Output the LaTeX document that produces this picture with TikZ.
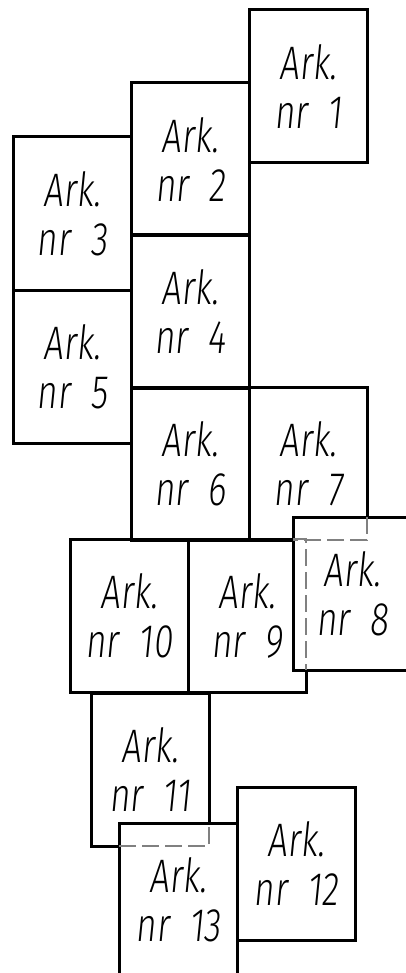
\documentclass[tikz,border=0pt]{standalone}
\usepackage{fontspec}
\setmainfont{Fira Sans Light}[FakeStretch=0.74, FakeSlant=0.1]
\tikzset{
  sheet/.style={minimum width=118pt, minimum height=153pt, inner sep=0pt, outer sep=0pt,
                align=center, font=\fontsize{47}{49}\selectfont},
  solidedge/.style={line width=3pt, line join=miter},
  hidden/.style={line width=1.1pt, gray, dash pattern=on 17pt off 6pt},
}
\newcommand{\sheetlabel}[1]{Ark.\\nr\hspace{20pt}#1}
\begin{document}
\begin{tikzpicture}[x=1pt,y=-1pt]
\useasboundingbox (0,0) rectangle (406,973);
\node[sheet] (n1)  at (308,86.5)  {\sheetlabel{1}};
\node[sheet] (n2)  at (190,159.5) {\sheetlabel{2}};
\node[sheet] (n3)  at (72,213.5)  {\sheetlabel{3}};
\node[sheet] (n4)  at (190,311.5) {\sheetlabel{4}};
\node[sheet] (n5)  at (72,366.5)  {\sheetlabel{5}};
\node[sheet] (n6)  at (190,463.5) {\sheetlabel{6}};
\node[sheet] (n7)  at (308,463.5) {\sheetlabel{7}};
\node[sheet] (n8)  at (352,593.5) {\sheetlabel{8}};
\node[sheet] (n9)  at (247,615.5) {\sheetlabel{9}};
\node[sheet] (n10) at (129,615.5) {\sheetlabel{10}};
\node[sheet] (n11) at (150,769.5) {\sheetlabel{11}};
\node[sheet] (n12) at (296,863.5) {\sheetlabel{12}};
\node[sheet] (n13) at (178,899.5) {\sheetlabel{13}};
\foreach \n in {1,2,3,4,5,6,10,12,8,13}
  \draw[solidedge] (n\n.north west) rectangle (n\n.south east);
% sheet 7, partly under sheet 8
\draw[solidedge] (n7.south -| n8.west) -- (n7.south west) -- (n7.north west) -- (n7.north east) -- (n7.east |- n8.north);
\draw[hidden] (n7.east |- n8.north) -- (n7.south east) -- (n7.south -| n8.west);
% sheet 9, partly under sheet 8
\draw[solidedge] (n9.east |- n8.south) -- (n9.south east) -- (n9.south west) -- (n9.north west) -- (n9.north -| n8.west);
\draw[hidden] (n9.north -| n8.west) -- (n9.north east) -- (n9.east |- n8.south);
% sheet 11, partly under sheet 13
\draw[solidedge] (n11.east |- n13.north) -- (n11.north east) -- (n11.north west) -- (n11.south west) -- (n11.south -| n13.west);
\draw[hidden] (n11.south -| n13.west) -- (n11.south east) -- (n11.east |- n13.north);
\end{tikzpicture}
\end{document}
